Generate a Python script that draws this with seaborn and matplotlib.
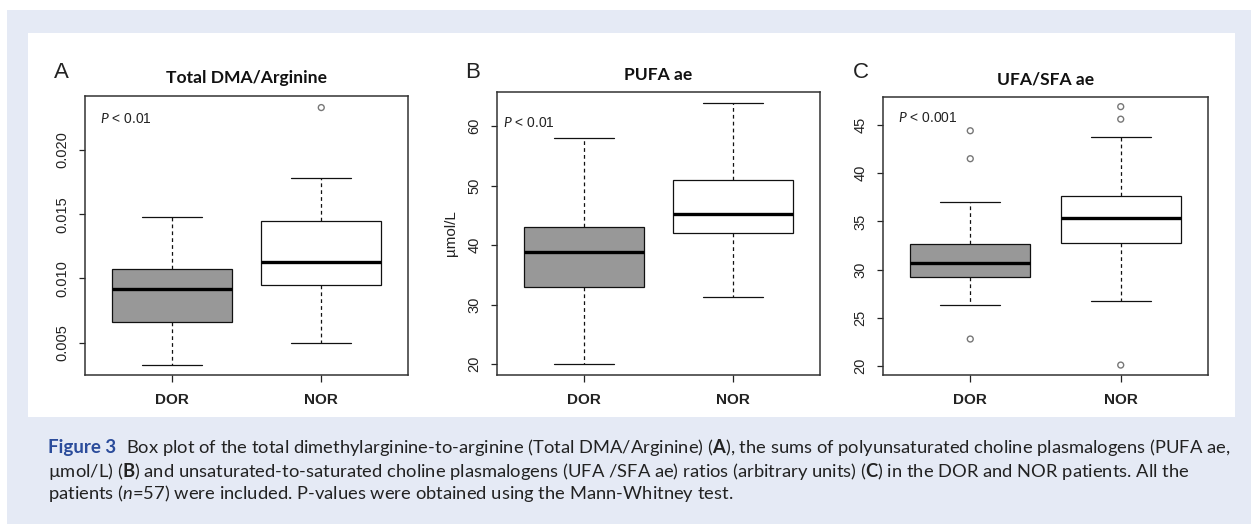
import matplotlib.pyplot as plt
import pandas as pd
import seaborn as sns
from matplotlib.patches import Rectangle

# ------------------------------------------------
# Values: box summaries (whisker low, Q1, median, Q3,
# whisker high) per group, plus the points drawn as outliers
# ------------------------------------------------
groups = ["DOR", "NOR"]

dma_dor = [0.0033, 0.0066, 0.0092, 0.0107, 0.0148]
dma_nor = [0.0050, 0.0095, 0.0113, 0.0145, 0.0178]
dma_out_dor = []
dma_out_nor = [0.0233]

pufa_dor = [20.0, 32.9, 38.8, 43.0, 58.0]
pufa_nor = [31.3, 42.0, 45.2, 51.0, 63.9]
pufa_out_dor = []
pufa_out_nor = []

ufa_dor = [26.3, 29.2, 30.7, 32.7, 37.0]
ufa_nor = [26.7, 32.8, 35.3, 37.6, 43.8]
ufa_out_dor = [44.4, 41.5, 22.8]
ufa_out_nor = [46.9, 45.6, 20.1]

titles = ["Total DMA/Arginine", "PUFA ae", "UFA/SFA ae"]
letters = ["A", "B", "C"]
pvalues = ["< 0.01", "< 0.01", "< 0.001"]
ylabels = ["", "\u00b5mol/L", ""]
yticks = [
    [0.005, 0.010, 0.015, 0.020],
    [20, 30, 40, 50, 60],
    [20, 25, 30, 35, 40, 45],
]
ytick_fmt = ["{:.3f}", "{:.0f}", "{:.0f}"]

caption_lines = [
    "Box plot of the total dimethylarginine-to-arginine (Total DMA/Arginine) "
    "($\\mathbf{A}$), the sums of polyunsaturated choline plasmalogens (PUFA ae,",
    "\u00b5mol/L) ($\\mathbf{B}$) and unsaturated-to-saturated choline plasmalogens "
    "(UFA /SFA ae) ratios (arbitrary units) ($\\mathbf{C}$) in the DOR and NOR patients. All the",
    "patients ($\\mathit{n}$=57) were included. P-values were obtained using the "
    "Mann-Whitney test.",
]

panels = [
    (dma_dor, dma_nor, dma_out_dor, dma_out_nor),
    (pufa_dor, pufa_nor, pufa_out_dor, pufa_out_nor),
    (ufa_dor, ufa_nor, ufa_out_dor, ufa_out_nor),
]

# ------------------------------------------------
# Layout (pixel boxes measured on the reference)
# ------------------------------------------------
W, H = 1251, 524
axes_px = [(85, 408, 96, 375), (497, 820, 92, 375), (883, 1208, 97, 375)]
ylims = [(0.00249, 0.0242), (18.2, 65.7), (19.07, 47.9)]
letter_px = [(54, 73), (465, 73), (853, 73)]
pval_px = [(100, 119), (503, 123), (898, 118)]

sns.set_theme(style="ticks")
plt.rcParams["font.family"] = ["Liberation Sans", "DejaVu Sans"]
plt.rcParams["mathtext.fontset"] = "custom"
plt.rcParams["mathtext.rm"] = "Lato"
plt.rcParams["mathtext.it"] = "Lato:italic"
plt.rcParams["mathtext.bf"] = "Lato:bold"

fig = plt.figure(figsize=(W / 100, H / 100), dpi=100)
fig.patch.set_facecolor("white")

# lavender page background and white figure card
fig.patches.append(Rectangle((7 / W, 0), 1, 1 - 10 / H, transform=fig.transFigure,
                             facecolor="#e5eaf5", edgecolor="none", zorder=-10))
fig.patches.append(Rectangle((28 / W, 1 - 417 / H), (1235 - 28) / W, (417 - 33) / H,
                             transform=fig.transFigure, facecolor="white",
                             edgecolor="none", zorder=-9))

for i, (dor, nor, out_dor, out_nor) in enumerate(panels):
    x0, x1, y0, y1 = axes_px[i]
    ax = fig.add_axes([x0 / W, 1 - y1 / H, (x1 - x0) / W, (y1 - y0) / H])

    df = pd.DataFrame({
        "group": [groups[0]] * len(dor) + [groups[1]] * len(nor),
        "value": dor + nor,
    })
    sns.boxplot(
        data=df, x="group", y="value", hue="group", order=groups,
        palette={"DOR": "#989898", "NOR": "white"}, legend=False,
        width=0.8, whis=(0, 100), showfliers=False,
        linecolor="#111111", linewidth=0.9,
        medianprops=dict(linewidth=2.4, color="black"),
        whiskerprops=dict(linestyle=(0, (3, 2.5)), linewidth=0.9),
        capprops=dict(linewidth=0.9),
        ax=ax,
    )

    # outliers as open circles
    for g, pts in zip(groups, [out_dor, out_nor]):
        if pts:
            ax.scatter([groups.index(g)] * len(pts), pts, s=18, marker="o",
                       facecolors="none", edgecolors="#777777", linewidths=1,
                       zorder=5)

    ax.set_xlim(-0.58, 1.58)
    ax.set_ylim(*ylims[i])
    ax.set_yticks(yticks[i])
    ax.set_yticklabels([ytick_fmt[i].format(v) for v in yticks[i]])
    ax.set_xlabel("")
    ax.set_ylabel(ylabels[i], fontsize=11, color="#222222", labelpad=7)

    for sp in ax.spines.values():
        sp.set_visible(True)
        sp.set_linewidth(1.1)
        sp.set_color("#333333")
    ax.tick_params(axis="y", labelrotation=90, length=4, width=0.9,
                   pad=7, labelsize=10.5, colors="#222222")
    ax.tick_params(axis="x", length=5, width=0.9, pad=8, labelsize=11,
                   colors="#222222")
    for lab in ax.get_xticklabels():
        lab.set_fontweight("bold")
    for lab in ax.get_yticklabels():
        lab.set_va("center")

    ax.set_title(titles[i], fontsize=12.6, fontweight="bold", family="Lato",
                 color="#111111", pad=9)

    lx, ly = letter_px[i]
    fig.text(lx / W, 1 - ly / H, letters[i], fontsize=16, ha="left",
             va="center", color="#222222")
    px, py = pval_px[i]
    fig.text(px / W, 1 - py / H, "$P$ " + pvalues[i], fontsize=10,
             ha="left", va="center", color="#222222")

# ------------------------------------------------
# Caption
# ------------------------------------------------
fig.text(48 / W, 1 - 447 / H, "Figure 3", fontsize=13.5, fontweight="bold",
         family="Lato", color="#2b4c9b", ha="left", va="center")
caption_y = [448, 472, 494]
caption_x = [126, 48, 48]
for line, cx, cy in zip(caption_lines, caption_x, caption_y):
    fig.text(cx / W, 1 - cy / H, line, fontsize=13.2, family="Lato",
             color="#222222", ha="left", va="center")

fig.savefig("out.png", dpi=100)
